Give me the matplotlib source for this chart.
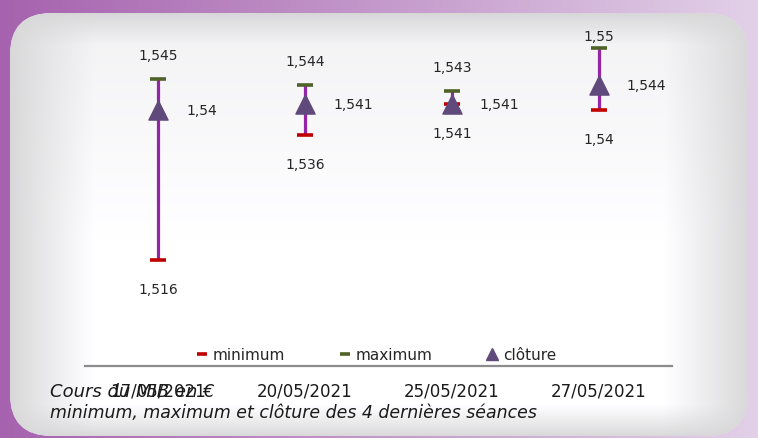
import numpy as np
import matplotlib.pyplot as plt
from matplotlib.patches import FancyBboxPatch
from matplotlib.lines import Line2D

# Données
seances = ['17/05/2021', '20/05/2021', '25/05/2021', '27/05/2021']
minimum = [1.516, 1.536, 1.541, 1.540]
maximum = [1.545, 1.544, 1.543, 1.550]
cloture = [1.540, 1.541, 1.541, 1.544]

W, H = 758, 439
fig = plt.figure(figsize=(W / 100, H / 100), dpi=100)

# Fond violet et panneau arrondi
bg = fig.add_axes([0, 0, 1, 1])
bg.set_xlim(0, W)
bg.set_ylim(H, 0)
bg.axis('off')
t = np.linspace(0, 1, W)
left_c = np.array([166, 98, 174]) / 255
right_c = np.array([226, 208, 232]) / 255
grad = left_c[None, :] * (1 - t[:, None]) + right_c[None, :] * t[:, None]
bg.imshow(np.tile(grad[None, :, :], (10, 1, 1)), extent=[0, W, H, 0], aspect='auto', zorder=0)

panel = FancyBboxPatch((10, 14), 738, 423, boxstyle='round,pad=0,rounding_size=42',
                       facecolor='#e6e6e8', edgecolor='none', zorder=1)
bg.add_patch(panel)
X, Y = np.meshgrid(np.arange(W), np.arange(H))
dx = np.minimum(X - 10, 748 - X)
dy = np.minimum(Y - 14, 437 - Y)
fade = np.clip(dx / 85, 0, 1) * np.clip(dy / 32, 0, 1)
inner = 0.955 + 0.045 * np.clip((Y - 40) / 200, 0, 1)
lvl = 0.845 + (inner - 0.845) * fade ** 0.9
img = np.dstack([lvl, lvl, lvl * 1.006]).clip(0, 1)
im = bg.imshow(img, extent=[0, W, H, 0], aspect='auto', zorder=2)
im.set_clip_path(panel)

# Graphique
ax = fig.add_axes([85 / W, (H - 367) / H, (672 - 85) / W, (367 - 30) / H])
ax.set_facecolor('none')
x = np.arange(len(seances))
ax.vlines(x, minimum, maximum, color='#9425a6', lw=2.3, zorder=3)
ax.scatter(x, minimum, marker='_', s=130, linewidths=2.6, color='#c00000', zorder=4)
ax.scatter(x, maximum, marker='_', s=130, linewidths=2.6, color='#4f6228', zorder=4)
ax.scatter(x, cloture, marker='^', s=190, color='#604a7b', zorder=5)

fmt = lambda v: f'{v:g}'.replace('.', ',')
top_off = [24, 24, 24, 12]
for i in x:
    ax.annotate(fmt(maximum[i]), (i, maximum[i]), xytext=(0, top_off[i]), textcoords='offset pixels',
                ha='center', va='center', fontsize=10, color='#262626')
    ax.annotate(fmt(minimum[i]), (i, minimum[i]), xytext=(0, -29), textcoords='offset pixels',
                ha='center', va='center', fontsize=10, color='#262626')
    ax.annotate(fmt(cloture[i]), (i, cloture[i]), xytext=(28, 0), textcoords='offset pixels',
                ha='left', va='center', fontsize=10, color='#262626')

ax.set_xlim(-0.5, 3.5)
ax.set_ylim(1.499, 1.553)
ax.set_yticks([])
ax.set_xticks(x)
ax.set_xticklabels(seances, fontsize=12, color='#1a1a1a')
ax.tick_params(axis='x', length=0, pad=11)
for s in ['top', 'left', 'right']:
    ax.spines[s].set_visible(False)
ax.spines['bottom'].set_color('#8c8c8c')
ax.spines['bottom'].set_linewidth(1.6)

handles = [Line2D([], [], ls='none', marker='_', ms=7, mew=2.6, color='#c00000'),
           Line2D([], [], ls='none', marker='^', ms=9, color='#604a7b')]
handles.insert(1, Line2D([], [], ls='none', marker='_', ms=7, mew=2.6, color='#4f6228'))
ax.legend(handles, ['minimum', 'maximum', 'clôture'], loc='lower center',
          bbox_to_anchor=(0.497, -0.03), ncol=3, frameon=False, fontsize=11,
          handlelength=0.6, handletextpad=0.4, columnspacing=3.6, labelcolor='#262626')

fig.text(50 / W, 1 - 392 / H, 'Cours du MIB en €', fontsize=13, style='italic',
         color='#1a1a1a', va='center', ha='left')
fig.text(50 / W, 1 - 413 / H, 'minimum, maximum et clôture des 4 dernières séances',
         fontsize=12.5, style='italic', color='#1a1a1a', va='center', ha='left')

fig.savefig('out.png', dpi=100)
